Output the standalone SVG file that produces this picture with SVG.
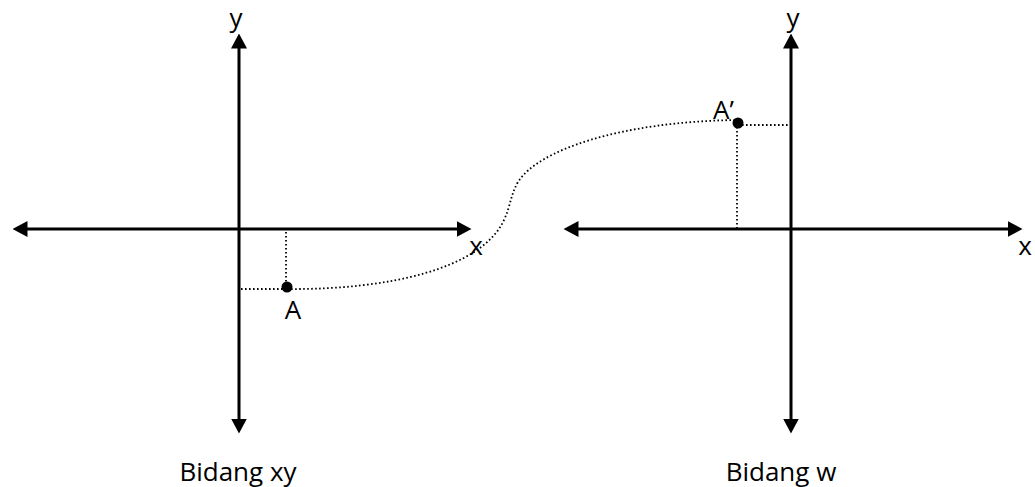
<svg xmlns="http://www.w3.org/2000/svg" width="1035" height="487" viewBox="0 0 1035 487">
<style>
.axis{stroke:#000;stroke-width:3;fill:none}
.dot{stroke:#000;stroke-width:1.8;stroke-dasharray:1.6 2.4;fill:none}
text{font-family:"Open Sans","Liberation Sans",sans-serif;fill:#000;font-size:26px}
</style>
<defs>
<marker id="ah" viewBox="0 0 15 16" refX="0.5" refY="8" markerWidth="15" markerHeight="16" markerUnits="userSpaceOnUse" orient="auto-start-reverse">
<path d="M0,0 L15,8 L0,16 Z" fill="#000"/>
</marker>
</defs>
<g id="plane-xy">
<line class="axis" x1="239" y1="48" x2="239" y2="419" marker-start="url(#ah)" marker-end="url(#ah)"/>
<line class="axis" x1="27" y1="229" x2="457" y2="229" marker-start="url(#ah)" marker-end="url(#ah)"/>
<text x="236" y="27" text-anchor="middle">y</text>
<text x="476" y="255" text-anchor="middle">x</text>
<text x="238" y="481" text-anchor="middle">Bidang xy</text>
</g>
<g id="plane-w">
<line class="axis" x1="791" y1="48" x2="791" y2="419" marker-start="url(#ah)" marker-end="url(#ah)"/>
<line class="axis" x1="578" y1="229" x2="1008" y2="229" marker-start="url(#ah)" marker-end="url(#ah)"/>
<text x="793" y="27" text-anchor="middle">y</text>
<text x="1025" y="255" text-anchor="middle">x</text>
<text x="781" y="481" text-anchor="middle">Bidang w</text>
</g>
<g id="point-A">
<circle cx="287" cy="287" r="5.5" fill="#000"/>
<text x="293" y="319" text-anchor="middle">A</text>
</g>
<g id="point-A-prime">
<circle cx="738" cy="123" r="5.5" fill="#000"/>
<text x="713" y="119">A’</text>
</g>
<g id="connectors">
<path class="dot" d="M286,232 L286,287"/>
<path class="dot" d="M241,289 L287,289"/>
<path class="dot" d="M287,289 C390,290 480,268 503,222 C511,206 510,196 518,182 C538,150 620,122 735,120"/>
<path class="dot" d="M738,125 L790,125"/>
<path class="dot" d="M737,123 L737,228"/>
</g>
</svg>
